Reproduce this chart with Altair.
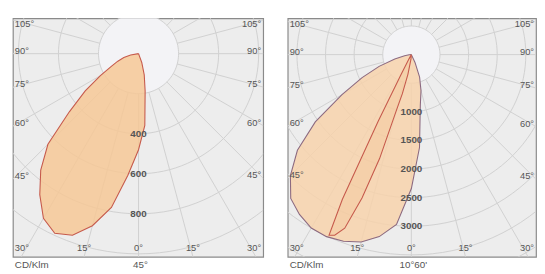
import altair as alt
import numpy as np
import pandas as pd

# ---------------- data (cd/klm, angle in degrees from nadir, + = left) -------------
left_angles = [-25, -20, -15, -10, -5, 0, 5, 10, 15, 20, 25, 30, 35, 40, 45, 50, 55, 60, 65, 70, 75, 80, 90]
left_cd = [0, 47, 110, 190, 360, 480, 610, 780, 890, 965, 990, 950, 860, 760, 640, 450, 325, 220, 150, 110, 76, 40, 0]

right_outer_angles = [-30, -25, -20, -15, -10, -5, 0, 5, 10, 15, 20, 25, 30, 35, 40, 45, 50, 55, 60, 65, 70, 75, 80, 85, 90]
right_outer_cd = [0, 150, 420, 650, 900, 1630, 2340, 2980, 3230, 3390, 3470, 3510, 3500, 3410, 3280, 2990, 2600, 2050, 1400, 950, 600, 300, 120, 40, 0]

right_inner_angles = [0, 5, 10, 13, 15, 17, 19, 21, 23, 24.5, 25.5, 26.5, 27.5, 29, 32]
right_inner_cd = [0, 80, 350, 700, 1000, 1900, 2650, 3250, 3430, 3470, 2800, 1300, 400, 80, 0]

left_rings = [200, 400, 600, 800, 1000, 1200]
left_ring_labels = ["400", "600", "800"]
right_rings = [500, 1000, 1500, 2000, 2500, 3000, 3500, 4000, 4500]
right_ring_labels = ["1000", "1500", "2000", "2500", "3000"]

edge_angles = [105, 90, 75, 60, 45]
bottom_angles = [15, 0, -15]
corner_label = "30°"
left_bottom = ["CD/Klm", "45°"]
right_bottom = ["CD/Klm", "10°60'"]

FONT = "Liberation Sans"
TXT = "#555555"
GRID = "#d0d0d0"


def polar_df(angles, cds, name):
    a = np.radians(np.array(angles, dtype=float))
    r = np.array(cds, dtype=float)
    return pd.DataFrame({"i": np.arange(len(r)), "x": -r * np.sin(a), "y": -r * np.cos(a), "s": name})


def panel(k, cx, cy, W, H, rings, ring_labels, curves, bottom_txt):
    xdom = [-cx / k, (W - cx) / k]
    ydom = [-(H - cy) / k, cy / k]
    X = lambda f="x": alt.X(f"{f}:Q", scale=alt.Scale(domain=xdom, nice=False, zero=False), axis=None)
    Y = lambda f="y": alt.Y(f"{f}:Q", scale=alt.Scale(domain=ydom, nice=False, zero=False), axis=None)

    t = np.linspace(0, 2 * np.pi, 121)
    ring_rows = []
    for r in rings:
        for j, tt in enumerate(t):
            ring_rows.append({"ring": r, "i": j, "x": r * np.cos(tt), "y": r * np.sin(tt)})
    ring_df = pd.DataFrame(ring_rows)
    disk_df = ring_df[ring_df.ring == rings[0]]

    ang = np.radians(np.arange(0, 360, 15))
    rad_df = pd.DataFrame({
        "x": rings[0] * np.sin(ang), "y": rings[0] * np.cos(ang),
        "x2": rings[-1] * 1.2 * np.sin(ang), "y2": rings[-1] * 1.2 * np.cos(ang)})

    disk = alt.Chart(disk_df).mark_line(fill="#f3f3f6", strokeWidth=0, clip=True).encode(
        x=X(), y=Y(), order="i:Q")
    ringl = alt.Chart(ring_df).mark_line(color=GRID, strokeWidth=1, clip=True).encode(
        x=X(), y=Y(), detail="ring:N", order="i:Q")
    radl = alt.Chart(rad_df).mark_rule(color=GRID, strokeWidth=1, clip=True).encode(
        x=X(), y=Y(), x2="x2:Q", y2="y2:Q")

    layers = [disk, ringl, radl]
    for df, fill, stroke, op in curves:
        layers.append(alt.Chart(df).mark_line(fill=fill, fillOpacity=op, stroke=stroke,
                                              strokeWidth=1.1, clip=True).encode(
            x=X(), y=Y(), order="i:Q"))

    # ring labels on the nadir axis
    rl = pd.DataFrame({"t": ring_labels, "x": 0.0, "y": [-float(v) for v in ring_labels]})
    layers.append(alt.Chart(rl).mark_text(font=FONT, fontSize=10, color=TXT, fontWeight="bold",
                                          align="center", baseline="middle").encode(
        x=X(), y=Y(), text="t:N"))

    # angle labels on the side edges
    rows = []
    for a in edge_angles:
        ar = np.radians(a)
        for side, xe, al in [(-1, xdom[0] + 2 / k, "left"), (1, xdom[1] - 2 / k, "right")]:
            dx = abs(xdom[0]) if side < 0 else xdom[1]
            yy = -dx * np.cos(ar) / np.sin(ar)
            yy = min(yy, ydom[1] - 9 / k)
            rows.append({"t": f"{a}°", "x": xe, "y": yy + 3 / k, "al": al})
    for a in bottom_angles:
        xx = abs(ydom[0]) * np.tan(np.radians(a)) * -1
        rows.append({"t": f"{abs(a)}°", "x": xx, "y": ydom[0] + 9 / k, "al": "center"})
    rows.append({"t": corner_label, "x": xdom[0] + 2 / k, "y": ydom[0] + 9 / k, "al": "left"})
    rows.append({"t": corner_label, "x": xdom[1] - 2 / k, "y": ydom[0] + 9 / k, "al": "right"})
    lab = pd.DataFrame(rows)
    for al in ["left", "right", "center"]:
        layers.append(alt.Chart(lab[lab.al == al]).mark_text(
            font=FONT, fontSize=9.5, color=TXT, align=al, baseline="middle").encode(
            x=X(), y=Y(), text="t:N"))

    # captions below the frame
    layers.append(alt.Chart(pd.DataFrame({"t": [bottom_txt[0]]})).mark_text(
        font=FONT, fontSize=10, color=TXT, align="left", baseline="middle").encode(
        x=alt.value(2), y=alt.value(H + 8), text="t:N"))
    layers.append(alt.Chart(pd.DataFrame({"t": [bottom_txt[1]]})).mark_text(
        font=FONT, fontSize=10, color=TXT, align="center", baseline="middle").encode(
        x=alt.value(cx + 2), y=alt.value(H + 8), text="t:N"))

    return alt.layer(*layers).properties(width=W, height=H)


left = panel(0.204, 128, 36, 255, 243, left_rings, left_ring_labels,
             [(polar_df(left_angles, left_cd, "c45"), "#f6c896", "#c65a4c", 0.85)],
             left_bottom)
right = panel(0.0583, 126, 37, 253, 243, right_rings, right_ring_labels,
              [(polar_df(right_outer_angles, right_outer_cd, "c0"), "#f7d2ac", "#8c6a80", 0.85),
               (polar_df(right_inner_angles, right_inner_cd, "c90"), "#f3c090", "#c65a4c", 0.3)],
              right_bottom)

chart = alt.hconcat(left, right, spacing=25, bounds="flush").properties(
    padding={"left": 4, "top": 7, "right": 0, "bottom": 0}
).configure_view(fill="#ededed", stroke="#8a8a8a", strokeWidth=1.2)

chart.save("out.html", embed_options={"renderer": "svg", "actions": False})
